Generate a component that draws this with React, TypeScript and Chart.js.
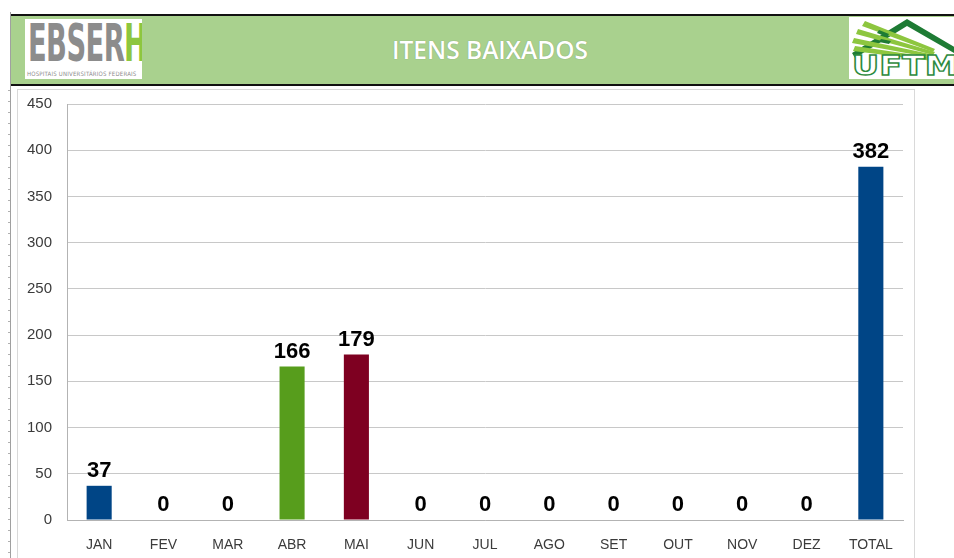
import React, { useEffect, useRef } from "react";
import { Chart, registerables } from "chart.js";

Chart.register(...registerables);

const categories = ["JAN", "FEV", "MAR", "ABR", "MAI", "JUN", "JUL", "AGO", "SET", "OUT", "NOV", "DEZ", "TOTAL"];
const values = [37, 0, 0, 166, 179, 0, 0, 0, 0, 0, 0, 0, 382];
const barColors = ["#004586", "#004586", "#004586", "#579D1C", "#7E0021", "#004586", "#004586", "#004586", "#004586", "#004586", "#004586", "#004586", "#004586"];
const yMin = 0;
const yMax = 450;
const yStep = 50;
const title = "ITENS BAIXADOS";

const valueLabels = {
  id: "valueLabels",
  afterDatasetsDraw(chart: any) {
    const ctx = chart.ctx;
    const meta = chart.getDatasetMeta(0);
    ctx.save();
    ctx.font = "bold 22px 'Liberation Sans', Arial, sans-serif";
    ctx.fillStyle = "#000000";
    ctx.textAlign = "center";
    ctx.textBaseline = "alphabetic";
    meta.data.forEach((bar: any, i: number) => {
      ctx.fillText(String(values[i]), bar.x, bar.y - 9);
    });
    ctx.restore();
  },
};

export default function App() {
  const canvasRef = useRef<HTMLCanvasElement | null>(null);

  useEffect(() => {
    document.body.style.margin = "0";
    const canvas = canvasRef.current;
    if (!canvas) return;
    const chart = new Chart(canvas, {
      type: "bar",
      data: {
        labels: categories,
        datasets: [
          {
            data: values,
            backgroundColor: barColors,
            borderWidth: 0,
            barPercentage: 0.39,
            categoryPercentage: 1,
          },
        ],
      },
      options: {
        animation: false,
        responsive: false,
        maintainAspectRatio: false,
        layout: { padding: { left: 0, right: 11, top: 14, bottom: 0 } },
        plugins: {
          legend: { display: false },
          tooltip: { enabled: false },
          title: { display: false },
        },
        scales: {
          x: {
            grid: { display: false, drawTicks: false },
            border: { display: true, color: "#b3b3b3", width: 1 },
            ticks: {
              color: "#3b3b3b",
              font: { family: "'Liberation Sans', Arial, sans-serif", size: 14 },
              padding: 17,
              maxRotation: 0,
              autoSkip: false,
            },
            afterFit: (axis: any) => {
              axis.height = 38;
            },
          },
          y: {
            min: yMin,
            max: yMax,
            grid: { color: "#c8c8c8", lineWidth: 1, drawTicks: true, tickLength: 12, tickColor: "rgba(0,0,0,0)" },
            border: { display: true, color: "#b3b3b3", width: 1 },
            ticks: {
              stepSize: yStep,
              color: "#3b3b3b",
              font: { family: "'Liberation Sans', Arial, sans-serif", size: 15 },
              padding: 3,
            },
            afterFit: (axis: any) => {
              axis.width = 49;
            },
          },
        },
      },
      plugins: [valueLabels],
    });
    return () => chart.destroy();
  }, []);

  return (
    <div style={{ position: "relative", width: 954, height: 558, overflow: "hidden", background: "#ffffff" }}>
      {/* left dotted ruler line */}
      <div style={{ position: "absolute", left: 10, top: 12, width: 1, height: 546, background: "#a0a0a0" }} />
      <div
        style={{
          position: "absolute",
          left: 8,
          top: 90,
          width: 2,
          height: 468,
          backgroundImage: "repeating-linear-gradient(to bottom, #b0b0b0 0px, #b0b0b0 1px, transparent 1px, transparent 11px)",
        }}
      />
      {/* header band */}
      <div
        style={{
          position: "absolute",
          left: 11,
          top: 14,
          width: 943,
          height: 68,
          background: "#A9D18E",
          borderTop: "2px solid #111",
          borderBottom: "2px solid #111",
        }}
      />
      {/* EBSERH logo */}
      <div style={{ position: "absolute", left: 25, top: 19, width: 117, height: 60, background: "#ffffff", overflow: "hidden" }}>
        <div
          style={{
            position: "absolute",
            left: 3,
            top: 0,
            fontFamily: "'DejaVu Sans Condensed', 'Liberation Sans', Arial, sans-serif",
            fontWeight: "bold",
            fontSize: 52,
            lineHeight: "48px",
            letterSpacing: -1,
            whiteSpace: "nowrap",
            transform: "scaleX(0.585)",
            transformOrigin: "left top",
          }}
        >
          <span style={{ color: "#8c8c8c" }}>EBSER</span>
          <span style={{ color: "#8DC63F" }}>H</span>
        </div>
        <div
          style={{
            position: "absolute",
            left: 2,
            top: 51,
            fontFamily: "'DejaVu Sans Condensed', 'Liberation Sans', Arial, sans-serif",
            fontSize: 6,
            lineHeight: "7px",
            color: "#8c8c8c",
            whiteSpace: "nowrap",
            letterSpacing: 0.2,
          }}
        >
          HOSPITAIS UNIVERSITÁRIOS FEDERAIS
        </div>
      </div>
      {/* title */}
      <div
        style={{
          position: "absolute",
          left: 290,
          top: 33,
          width: 400,
          textAlign: "center",
          fontFamily: "'Open Sans', 'DejaVu Sans', sans-serif",
          fontWeight: 600,
          fontSize: 24.5,
          lineHeight: "34px",
          color: "#ffffff",
          textShadow: "0 0 1px #6f8f5a",
        }}
      >
        {title}
      </div>
      {/* UFTM logo */}
      <div style={{ position: "absolute", left: 849, top: 17, width: 105, height: 62, background: "#ffffff", overflow: "hidden" }}>
        <svg width="110" height="62" viewBox="0 0 110 62">
          <polygon points="3,36 58,2 112,34 112,40 58,9 6,41" fill="#1E7B34" />
          <polygon points="16,4 86,32 84,35 13,9" fill="#8DC63F" />
          <polygon points="9,12 86,35 84,38 7,17" fill="#8DC63F" />
          <polygon points="5,21 86,38 84,41 3,26" fill="#8DC63F" />
          <polygon points="6,29 86,41 84,44 4,34" fill="#8DC63F" />
          <polygon points="30,13 40,17 38,20 28,16" fill="#1E7B34" />
          <polygon points="32,22 42,24 40,27 30,25" fill="#1E7B34" />
          <text
            x="3"
            y="58"
            fontFamily="'DejaVu Sans', sans-serif"
            fontWeight="bold"
            fontSize="26"
            fill="#ffffff"
            stroke="#2E8B3E"
            strokeWidth="1.3"
            textLength="106"
            lengthAdjust="spacingAndGlyphs"
          >
            UFTM
          </text>
        </svg>
      </div>
      {/* chart frame */}
      <div
        style={{
          position: "absolute",
          left: 17,
          top: 89,
          width: 896,
          height: 480,
          border: "1px solid #d9d9d9",
          background: "#ffffff",
        }}
      >
        <canvas ref={canvasRef} width={896} height={468} style={{ display: "block", width: 896, height: 468 }} />
      </div>
    </div>
  );
}
